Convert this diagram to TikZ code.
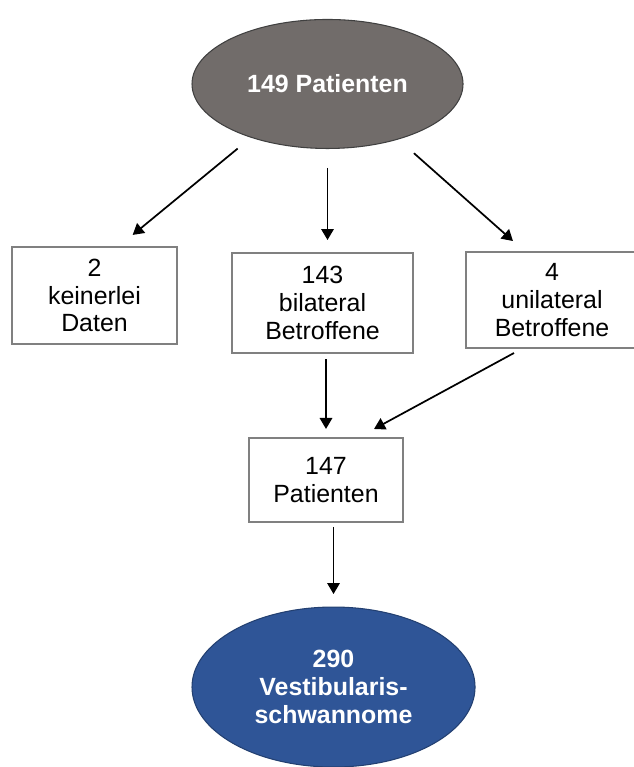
\documentclass[tikz,border=0pt]{standalone}
\usepackage{fontspec}
\setmainfont{Liberation Sans}
\usepackage{tikz}
\usetikzlibrary{arrows.meta, calc}
\usetikzlibrary{shapes.geometric}
\definecolor{mygray}{RGB}{113, 108, 106}
\definecolor{myblue}{RGB}{47, 85, 151}
\definecolor{boxgray}{RGB}{128, 128, 128}
\tikzstyle{grayell} = [ellipse, draw=black!75, outer sep=0, inner sep=0,
    line width=0.8, fill=mygray, text=white, align=center,
    font=\fontsize{18.75}{21}\selectfont\bfseries]
\tikzstyle{blueell} = [ellipse, draw=myblue!75!black, outer sep=0, inner sep=0,
    line width=0.8, fill=myblue, text=white, align=center,
    font=\fontsize{18.75}{21}\selectfont\bfseries]
\tikzstyle{square2} = [draw=boxgray, outer sep=0, inner sep=0,
    line width=1.8, fill=white, align=center,
    font=\fontsize{18.75}{21}\selectfont]
\tikzstyle{arr} = [-{Triangle[length=2.9mm,width=3.3mm]}, line width=1.3, black]

\begin{document}
\begin{tikzpicture}

\useasboundingbox (0,0) rectangle (16.748,-20.293);


%%% top
\node[grayell, minimum width=7.17cm, minimum height=3.413cm] (p149) at (8.665,-2.222) {149 Patienten};


%%% groups
\node[square2, minimum width=4.366cm, minimum height=2.566cm] (n2) at (2.500,-7.818) {2\\keinerlei\\Daten};
\node[square2, minimum width=4.789cm, minimum height=2.646cm] (n143) at (8.533,-8.017) {143\\bilateral\\Betroffene};
\node[square2, minimum width=4.551cm, minimum height=2.540cm] (n4) at (14.605,-7.937) {4\\unilateral\\Betroffene};

\node[square2, line width=1.5, minimum width=4.075cm, minimum height=2.222cm] (n147) at (8.625,-12.700) {147\\Patienten};


%%% result
\node[blueell, minimum width=7.488cm, minimum height=4.233cm] (n290) at (8.824,-18.177) {290\\Vestibularis-\\schwannome};



\draw[arr, shorten <=0.468cm, shorten >=0.503cm] (p149.215.8) -- ([xshift=0.622cm]n2.north);
\draw[arr, shorten <=0.516cm, shorten >=0.344cm] (p149.south) -- (p149.south |- n143.north);
\draw[arr, shorten <=0.564cm, shorten >=0.437cm] (p149.322.6) -- ([xshift=-0.706cm]n4.north);

\draw[arr, shorten <=0.16cm, shorten >=0.24cm] (n143.south -| n147.north) -- (n147.north);
\draw[arr, shorten <=0.278cm, shorten >=0.5cm] ([xshift=-0.762cm]n4.south) -- ([xshift=0.831cm]n147.north);

\draw[arr, shorten <=0.132cm, shorten >=0.344cm] (n147.south -| n290.north) -- (n290.north);


\end{tikzpicture}
\end{document}
